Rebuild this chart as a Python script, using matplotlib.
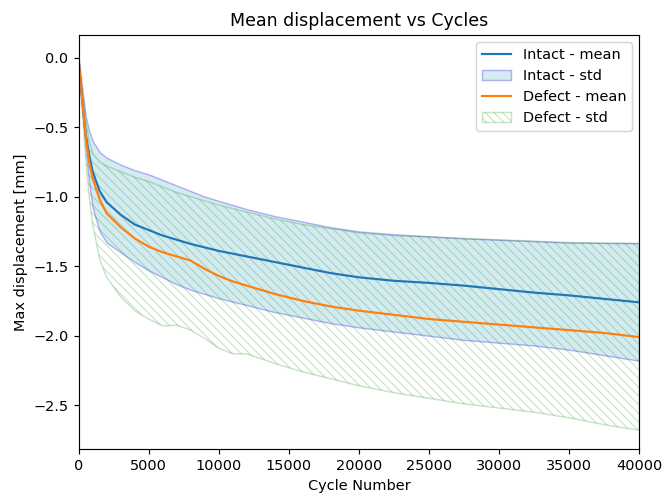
import numpy as np
import matplotlib
matplotlib.use("Agg")
import matplotlib.pyplot as plt

cycles = [0, 250, 500, 750, 1000, 1500, 2000, 3000, 4000, 5000, 6000, 7000, 8000, 9000,
          10000, 11000, 12000, 14000, 16000, 18000, 20000, 22500, 25000, 27500, 30000,
          32500, 35000, 37500, 40000]

intact_mean = [-0.02, -0.3, -0.55, -0.7, -0.82, -0.96, -1.04, -1.13, -1.2, -1.24, -1.28, -1.31,
               -1.34, -1.365, -1.39, -1.41, -1.43, -1.47, -1.51, -1.55, -1.58, -1.605, -1.62,
               -1.64, -1.665, -1.69, -1.71, -1.735, -1.76]
intact_upper = [0.0, -0.22, -0.42, -0.53, -0.6, -0.68, -0.72, -0.77, -0.81, -0.84, -0.88, -0.92,
                -0.96, -1.0, -1.03, -1.06, -1.09, -1.14, -1.18, -1.22, -1.25, -1.27, -1.285,
                -1.3, -1.31, -1.32, -1.33, -1.333, -1.335]
intact_lower = [-0.04, -0.35, -0.65, -0.9, -1.08, -1.25, -1.33, -1.4, -1.47, -1.53, -1.58, -1.63,
                -1.67, -1.7, -1.73, -1.755, -1.78, -1.83, -1.87, -1.91, -1.94, -1.97, -2.0,
                -2.03, -2.05, -2.07, -2.1, -2.14, -2.18]

defect_mean = [-0.02, -0.3, -0.57, -0.75, -0.87, -1.02, -1.12, -1.22, -1.3, -1.36, -1.4, -1.43,
               -1.46, -1.52, -1.57, -1.61, -1.64, -1.7, -1.75, -1.79, -1.82, -1.85, -1.88,
               -1.9, -1.92, -1.94, -1.96, -1.98, -2.01]
defect_upper = [0.0, -0.24, -0.45, -0.6, -0.69, -0.75, -0.78, -0.82, -0.86, -0.89, -0.93, -0.97,
                -1.0, -1.03, -1.06, -1.085, -1.11, -1.16, -1.2, -1.23, -1.26, -1.28, -1.29,
                -1.3, -1.31, -1.32, -1.33, -1.333, -1.335]
defect_lower = [-0.05, -0.38, -0.72, -1.0, -1.2, -1.45, -1.58, -1.72, -1.82, -1.88, -1.93, -1.925,
                -1.96, -2.02, -2.09, -2.13, -2.13, -2.2, -2.26, -2.31, -2.36, -2.41, -2.45,
                -2.49, -2.52, -2.55, -2.59, -2.64, -2.68]

plt.rcParams['hatch.linewidth'] = 0.8

DPI = 104
fig = plt.figure(figsize=(665 / DPI, 495 / DPI), dpi=DPI)
ax = fig.add_axes([0.1183, 0.0923, 0.843, 0.8376])

ax.plot(cycles, intact_mean, color='#1f77b4', label='Intact - mean')
ax.fill_between(cycles, intact_lower, intact_upper,
                facecolor=(173/255, 216/255, 230/255, 0.5),
                edgecolor=(0.2, 0.2, 0.9, 0.35), lw=1.0, label='Intact - std')
ax.plot(cycles, defect_mean, color='#ff7f0e', label='Defect - mean')
ax.fill_between(cycles, defect_lower, defect_upper, facecolor='none',
                edgecolor=(0.0, 0.5, 0.0, 0.22), lw=1.0,
                hatch='\\\\\\\\', label='Defect - std')

ax.set_xlim(0, 40000)
ax.set_ylim(-2.817, 0.165)
ax.set_xlabel('Cycle Number')
ax.set_ylabel('Max displacement [mm]')
ax.set_title('Mean displacement vs Cycles')
ax.legend(loc='upper right')

fig.savefig('out.png', dpi=DPI)
